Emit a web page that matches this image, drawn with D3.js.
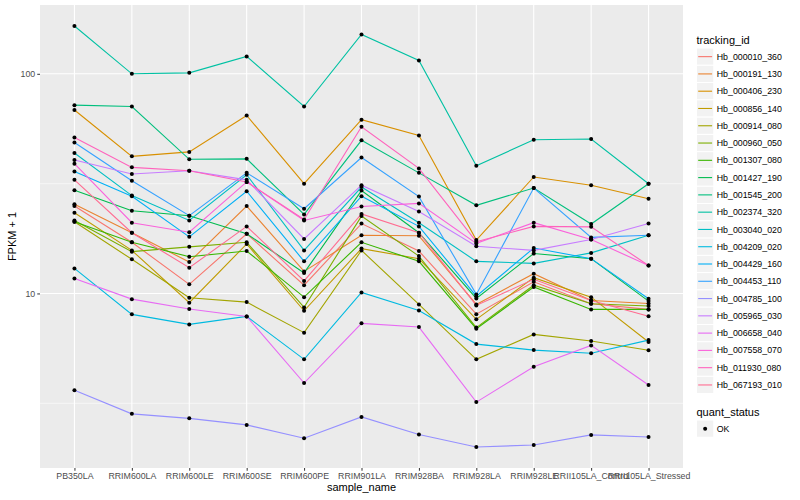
<!DOCTYPE html>
<html>
<head>
<meta charset="utf-8">
<script src="https://cdn.jsdelivr.net/npm/d3@7"></script>
<style>
  body { margin: 0; background: #fff; }
  svg { display: block; font-family: "Liberation Sans", Arial, sans-serif; }
</style>
</head>
<body>
<svg id="chart" width="800" height="500"></svg>
<script>
const samples = ['PB350LA', 'RRIM600LA', 'RRIM600LE', 'RRIM600SE', 'RRIM600PE', 'RRIM901LA',
  'RRIM928BA', 'RRIM928LA', 'RRIM928LE', 'RRII105LA_Control', 'RRII105LA_Stressed'];

const trackingIds = ['Hb_000010_360', 'Hb_000191_130', 'Hb_000406_230', 'Hb_000856_140',
  'Hb_000914_080', 'Hb_000960_050', 'Hb_001307_080', 'Hb_001427_190', 'Hb_001545_200',
  'Hb_002374_320', 'Hb_003040_020', 'Hb_004209_020', 'Hb_004429_160', 'Hb_004453_110',
  'Hb_004785_100', 'Hb_005965_030', 'Hb_006658_040', 'Hb_007558_070', 'Hb_011930_080',
  'Hb_067193_010'];

// FPKM + 1, one value per sample
const hb_000010_360 = [25.0, 17.1, 11.0, 18.7, 10.9, 20.8, 15.6, 8.05, 11.3, 8.98, 8.46];
const hb_000191_130 = [25.5, 18.9, 13.9, 25.0, 12.6, 18.4, 18.3, 8.91, 12.3, 9.29, 9.00];
const hb_000406_230 = [68.4, 42.1, 44.1, 64.6, 31.6, 61.8, 52.4, 17.5, 33.9, 31.1, 27.0];
const hb_000856_140 = [23.3, 15.7, 9.07, 16.8, 8.34, 16.0, 14.4, 7.62, 11.8, 9.62, 6.01];
const hb_000914_080 = [21.2, 14.3, 9.56, 9.13, 6.63, 15.7, 8.91, 5.01, 6.51, 6.07, 5.51];
const hb_000960_050 = [21.5, 15.5, 16.3, 17.1, 8.64, 22.5, 14.8, 6.99, 10.9, 8.98, 8.76];
const hb_001307_080 = [21.2, 17.1, 14.7, 15.6, 9.62, 17.1, 14.0, 6.91, 10.7, 8.46, 8.46];
const hb_001427_190 = [29.5, 23.8, 22.6, 18.7, 12.4, 29.4, 18.9, 9.49, 15.2, 14.4, 9.23];
const hb_001545_200 = [72.0, 71.0, 40.8, 41.0, 22.9, 49.8, 35.4, 25.2, 30.2, 20.7, 31.6];
const hb_002374_320 = [165, 100, 101, 120, 71.0, 151, 115, 38.1, 50.1, 50.5, 31.6];
const hb_003040_020 = [43.6, 27.9, 21.5, 34.7, 15.7, 30.5, 21.0, 14.0, 13.7, 15.3, 18.4];
const hb_004209_020 = [13.0, 8.03, 7.23, 7.86, 5.01, 10.1, 8.37, 5.88, 5.52, 5.34, 6.13];
const hb_004429_160 = [35.9, 27.7, 18.1, 29.2, 14.0, 27.7, 20.2, 9.72, 16.1, 14.4, 9.46];
const hb_004453_110 = [48.7, 32.6, 22.6, 35.4, 24.3, 41.6, 27.6, 9.90, 30.2, 18.0, 18.4];
const hb_004785_100 = [3.62, 2.83, 2.70, 2.52, 2.19, 2.74, 2.28, 2.00, 2.04, 2.27, 2.22];
const hb_005965_030 = [40.5, 35.0, 36.2, 32.9, 17.7, 31.1, 23.6, 16.4, 15.7, 17.6, 20.8];
const hb_006658_040 = [11.7, 9.42, 8.49, 7.86, 3.91, 7.31, 7.03, 3.20, 4.64, 5.80, 3.83];
const hb_007558_070 = [39.0, 21.0, 19.0, 32.2, 21.5, 24.9, 25.7, 16.9, 21.0, 17.6, 13.4];
const hb_011930_080 = [51.3, 37.5, 36.2, 32.2, 21.7, 57.4, 37.1, 17.2, 20.2, 20.1, 13.4];
const hb_067193_010 = [32.9, 18.9, 13.1, 20.2, 11.4, 23.0, 18.9, 8.82, 11.6, 9.29, 7.88];

const seriesValues = [hb_000010_360, hb_000191_130, hb_000406_230, hb_000856_140, hb_000914_080,
  hb_000960_050, hb_001307_080, hb_001427_190, hb_001545_200, hb_002374_320, hb_003040_020,
  hb_004209_020, hb_004429_160, hb_004453_110, hb_004785_100, hb_005965_030, hb_006658_040,
  hb_007558_070, hb_011930_080, hb_067193_010];

const quantStatus = ['OK'];
const yMajorTicks = [10, 100];
const yMinorTicks = [3.16, 31.6];

// ggplot default hue palette for 20 levels
const palette = ['#F8766D', '#EA8331', '#D89000', '#C09B00', '#A3A500', '#7CAE00', '#39B600',
  '#00BB4E', '#00BF7D', '#00C1A3', '#00BFC4', '#00BAE0', '#00B0F6', '#35A2FF', '#9590FF',
  '#C77CFF', '#E76BF3', '#FA62DB', '#FF62BC', '#FF6C91'];

const panel = { left: 40, right: 683, top: 5, bottom: 468 };
const svg = d3.select('#chart');

// Scales
const x = d3.scalePoint()
  .domain(samples)
  .range([panel.left, panel.right])
  .padding(0.6);

// log extent of the data, expanded by 5% like ggplot
const logExt = d3.extent(seriesValues.flat()).map(Math.log10);
const pad = (logExt[1] - logExt[0]) * 0.05;
const y = d3.scaleLog()
  .domain([Math.pow(10, logExt[0] - pad), Math.pow(10, logExt[1] + pad)])
  .range([panel.bottom, panel.top]);

const color = d3.scaleOrdinal().domain(trackingIds).range(palette);

// Panel background
svg.append('rect')
  .attr('x', panel.left)
  .attr('y', panel.top)
  .attr('width', panel.right - panel.left)
  .attr('height', panel.bottom - panel.top)
  .attr('fill', '#EBEBEB');

// Grid
const grid = svg.append('g');
grid.selectAll('.minor')
  .data(yMinorTicks)
  .join('line')
  .attr('x1', panel.left).attr('x2', panel.right)
  .attr('y1', d => y(d)).attr('y2', d => y(d))
  .attr('stroke', '#fff').attr('stroke-width', 0.55);

grid.selectAll('.major')
  .data(yMajorTicks)
  .join('line')
  .attr('x1', panel.left).attr('x2', panel.right)
  .attr('y1', d => y(d)).attr('y2', d => y(d))
  .attr('stroke', '#fff').attr('stroke-width', 1.1);

grid.selectAll('.vmajor')
  .data(samples)
  .join('line')
  .attr('x1', d => x(d)).attr('x2', d => x(d))
  .attr('y1', panel.top).attr('y2', panel.bottom)
  .attr('stroke', '#fff').attr('stroke-width', 1.1);

// Lines
const series = trackingIds.map((id, i) => ({
  id: id,
  points: samples.map((s, j) => ({ sample: s, value: seriesValues[i][j] }))
}));

const line = d3.line()
  .x(d => x(d.sample))
  .y(d => y(d.value));

svg.append('g')
  .selectAll('path')
  .data(series)
  .join('path')
  .attr('d', d => line(d.points))
  .attr('fill', 'none')
  .attr('stroke', d => color(d.id))
  .attr('stroke-width', 1.1);

// Points
svg.append('g')
  .selectAll('circle')
  .data(series.flatMap(d => d.points))
  .join('circle')
  .attr('cx', d => x(d.sample))
  .attr('cy', d => y(d.value))
  .attr('r', 2)
  .attr('fill', '#000');

// Axes
const yAxis = svg.append('g')
  .attr('transform', `translate(${panel.left},0)`)
  .call(d3.axisLeft(y).tickValues(yMajorTicks).tickFormat(d3.format('d')).tickSize(2.75).tickPadding(2));

const xAxis = svg.append('g')
  .attr('transform', `translate(0,${panel.bottom})`)
  .call(d3.axisBottom(x).tickSize(2.75).tickPadding(2));

[yAxis, xAxis].forEach(a => {
  a.select('.domain').remove();
  a.selectAll('.tick line').attr('stroke', '#333');
  a.selectAll('.tick text')
    .attr('fill', '#4D4D4D')
    .style('font-family', '"Liberation Sans", Arial, sans-serif')
    .style('font-size', '8.8px');
});

// Axis titles
svg.append('text')
  .attr('x', (panel.left + panel.right) / 2)
  .attr('y', 491)
  .attr('text-anchor', 'middle')
  .style('font-size', '11px')
  .text('sample_name');

svg.append('text')
  .attr('transform', `translate(16,${(panel.top + panel.bottom) / 2}) rotate(-90)`)
  .attr('text-anchor', 'middle')
  .style('font-size', '11px')
  .text('FPKM + 1');

// Legend: tracking_id
const legendX = 696.5;
const keySize = 17.28;
const legendTop = 48;

svg.append('text')
  .attr('x', legendX)
  .attr('y', 44)
  .style('font-size', '11px')
  .text('tracking_id');

const key = svg.append('g')
  .selectAll('g')
  .data(trackingIds)
  .join('g')
  .attr('transform', (d, i) => `translate(${legendX},${legendTop + i * keySize})`);

key.append('rect')
  .attr('width', keySize)
  .attr('height', keySize)
  .attr('fill', '#F2F2F2')
  .attr('stroke', '#fff');

key.append('line')
  .attr('x1', 1.7).attr('x2', keySize - 1.7)
  .attr('y1', keySize / 2).attr('y2', keySize / 2)
  .attr('stroke', d => color(d))
  .attr('stroke-width', 1.1);

key.append('text')
  .attr('x', keySize + 3)
  .attr('y', keySize / 2)
  .attr('dy', '0.35em')
  .style('font-size', '8.8px')
  .text(d => d);

// Legend: quant_status
svg.append('text')
  .attr('x', legendX)
  .attr('y', 416)
  .style('font-size', '11px')
  .text('quant_status');

const qkey = svg.append('g')
  .selectAll('g')
  .data(quantStatus)
  .join('g')
  .attr('transform', (d, i) => `translate(${legendX},${420 + i * keySize})`);

qkey.append('rect')
  .attr('width', keySize)
  .attr('height', keySize)
  .attr('fill', '#F2F2F2')
  .attr('stroke', '#fff');

qkey.append('circle')
  .attr('cx', keySize / 2)
  .attr('cy', keySize / 2)
  .attr('r', 2)
  .attr('fill', '#000');

qkey.append('text')
  .attr('x', keySize + 3)
  .attr('y', keySize / 2)
  .attr('dy', '0.35em')
  .style('font-size', '8.8px')
  .text(d => d);
</script>
</body>
</html>
